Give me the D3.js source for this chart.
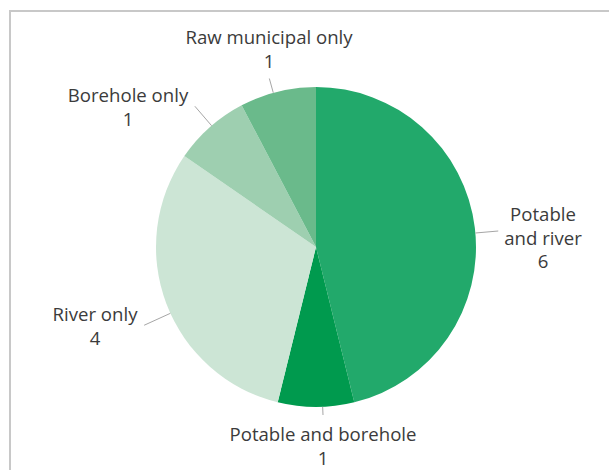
<!DOCTYPE html>
<html>
<head>
<meta charset="utf-8">
<script src="https://cdn.jsdelivr.net/npm/d3@7"></script>
<style>
  body { margin: 0; background: #fff; }
  svg { display: block; }
  text { font-family: "Open Sans", Roboto, sans-serif; font-size: 18.6px; fill: #3b3b3b; }
</style>
</head>
<body>
<div id="plot"></div>
<script>
// data (clockwise from 12 o'clock)
var categories = ['Potable and river', 'Potable and borehole', 'River only', 'Borehole only', 'Raw municipal only'];
var values = [6, 1, 4, 1, 1];
var colors = ['#22a96b', '#009a4e', '#cce5d5', '#9ecfb0', '#6aba8b'];

var W = 609, H = 470,
	cx = 316, cy = 247, r = 160,
	lineH = 23.5, pad = 6;

// where each label sits, relative to the pie centre (x = text centre, y = first baseline)
var labelLayout = {
	'Potable and river':    {dx: 227,  dy: -26,  side: 'left',   lines: ['Potable', 'and river']},
	'Potable and borehole': {dx: 7,    dy: 194,  side: 'top',    lines: ['Potable and borehole']},
	'River only':           {dx: -221, dy: 74,   side: 'right',  lines: ['River only']},
	'Borehole only':        {dx: -188, dy: -145, side: 'right',  lines: ['Borehole only']},
	'Raw municipal only':   {dx: -47,  dy: -203, side: 'bottom', lines: ['Raw municipal only']}
};

var svg = d3.select('#plot')
	.append('svg')
	.attr('width', W)
	.attr('height', H);

// chart frame (runs off the right and bottom of the picture)
svg.append('rect')
	.attr('x', 10).attr('y', 11)
	.attr('width', W + 20).attr('height', H + 20)
	.style('fill', 'none')
	.style('stroke', '#c8c8c8')
	.style('stroke-width', 2);

var color = d3.scaleOrdinal().domain(categories).range(colors);

var pie = d3.pie().sort(null).value(function(d){ return d.value; });
var arc = d3.arc().innerRadius(0).outerRadius(r);

var data = categories.map(function(c, i){ return {name: c, value: values[i]}; });
var arcs = pie(data);

var g = svg.append('g').attr('transform', 'translate(' + cx + ',' + cy + ')');

g.selectAll('path.slice')
	.data(arcs)
	.enter()
	.append('path')
	.attr('class', 'slice')
	.attr('d', arc)
	.style('fill', function(d){ return color(d.data.name); });

// labels
var labels = g.selectAll('g.label')
	.data(arcs)
	.enter()
	.append('g')
	.attr('class', 'label');

labels.each(function(d){
	var L = labelLayout[d.data.name],
		t = d3.select(this).append('text')
			.attr('text-anchor', 'middle');
	L.lines.concat([String(d.data.value)]).forEach(function(s, i){
		t.append('tspan')
			.attr('x', L.dx)
			.attr('y', L.dy + i * lineH)
			.text(s);
	});
});

// leader lines: from the label box side facing the pie, to the rim
labels.each(function(d){
	var L = labelLayout[d.data.name],
		b = this.getBBox(),
		x0 = b.x - pad, x1 = b.x + b.width + pad,
		y0 = b.y - pad, y1 = b.y + b.height + pad,
		end;
	if (L.side === 'left') end = [x0, (y0 + y1) / 2 - 6];
	else if (L.side === 'right') end = [x1, (y0 + y1) / 2];
	else if (L.side === 'top') end = [(x0 + x1) / 2, y0];
	else end = [(x0 + x1) / 2, y1];
	var a = Math.atan2(end[1], end[0]),
		start = [r * Math.cos(a), r * Math.sin(a)];
	d3.select(this).append('line')
		.attr('x1', start[0]).attr('y1', start[1])
		.attr('x2', end[0]).attr('y2', end[1])
		.style('stroke', '#a6a6a6')
		.style('stroke-width', 1);
});
</script>
</body>
</html>
